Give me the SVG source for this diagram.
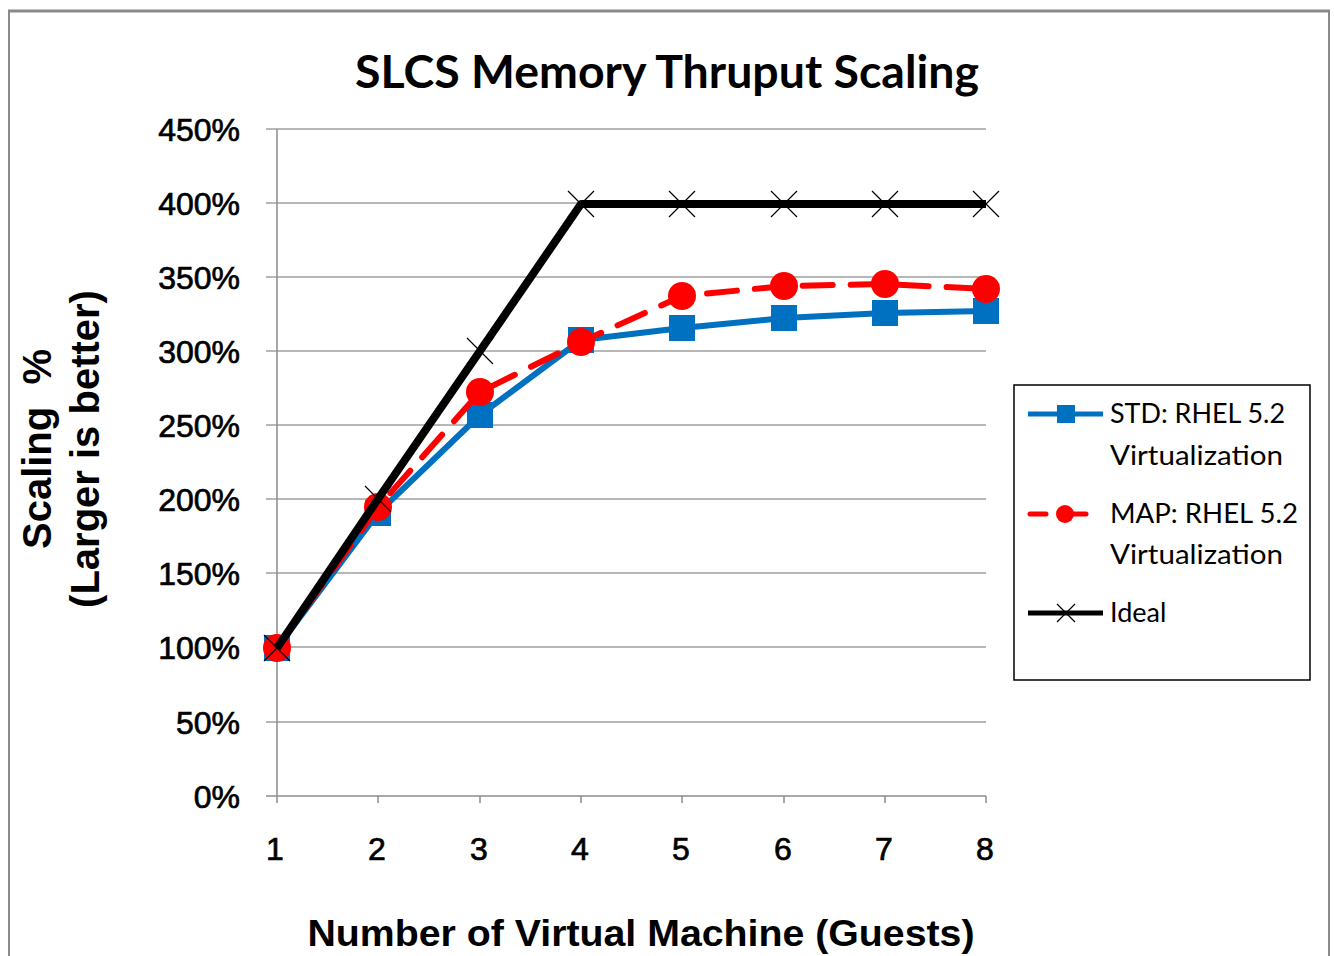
<svg xmlns="http://www.w3.org/2000/svg" width="1334" height="956" viewBox="0 0 1334 956">
  <style>
    .grid { stroke: #a0a0a0; stroke-width: 1.5; fill: none; }
    .axis { stroke: #8c8c8c; stroke-width: 1.5; fill: none; }
    .ytick { font-family: "Liberation Sans", Arial, sans-serif; font-size: 32px; fill: #000; stroke: #000; stroke-width: 0.7; text-anchor: end; }
    .xtick { font-family: "Liberation Sans", Arial, sans-serif; font-size: 32px; fill: #000; stroke: #000; stroke-width: 0.7; text-anchor: middle; }
    .atitle { font-family: "Liberation Sans", Arial, sans-serif; font-size: 36px; font-weight: bold; fill: #000; text-anchor: middle; }
    .ytitle { font-size: 40px; }
    .leg { font-family: Lato, "Open Sans", sans-serif; font-size: 27px; fill: #000; }
    .std { stroke: #0070C0; stroke-width: 6; fill: none; stroke-linejoin: round; }
    .map { stroke: #FF0000; stroke-width: 6; fill: none; stroke-dasharray: 30 18; stroke-linecap: round; stroke-linejoin: round; }
    .ideal { stroke: #000; stroke-width: 8; fill: none; stroke-linejoin: round; }
    .xm { stroke: #000; stroke-width: 1.2; fill: none; }
  </style>
  <defs>
    <rect id="sq" x="-13" y="-13" width="26" height="26" fill="#0070C0"/>
    <circle id="dot" r="14" fill="#FF0000"/>
    <path id="cross" d="M-13,-13 L13,13 M-13,13 L13,-13" class="xm"/>
  </defs>

  <rect x="0" y="0" width="1334" height="956" fill="#fff"/>
  <!-- outer frame -->
  <g id="frame">
    <line x1="8" y1="11" x2="1330" y2="11" stroke="#8a8a8a" stroke-width="3"/>
    <line x1="9" y1="10" x2="9" y2="956" stroke="#8a8a8a" stroke-width="2"/>
    <line x1="1329" y1="10" x2="1329" y2="956" stroke="#8a8a8a" stroke-width="2"/>
  </g>

  <text id="title" x="667" y="88" font-family="Lato, 'Open Sans', sans-serif" font-size="46" font-weight="bold" text-anchor="middle" textLength="624" lengthAdjust="spacingAndGlyphs">SLCS Memory Thruput Scaling</text>

  <!-- gridlines and axes -->
  <g id="gridlines">
    <path class="grid" d="M266,129H986 M266,203H986 M266,277H986 M266,351H986 M266,425H986 M266,499H986 M266,573H986 M266,647H986 M266,722H986"/>
    <path class="axis" d="M266,796H986 M277,129V803 M378,796V803 M480,796V803 M581,796V803 M682,796V803 M784,796V803 M885,796V803 M986,796V803"/>
  </g>

  <g id="y-labels">
    <text class="ytick" x="240" y="141">450%</text>
    <text class="ytick" x="240" y="215">400%</text>
    <text class="ytick" x="240" y="289">350%</text>
    <text class="ytick" x="240" y="363">300%</text>
    <text class="ytick" x="240" y="437">250%</text>
    <text class="ytick" x="240" y="511">200%</text>
    <text class="ytick" x="240" y="585">150%</text>
    <text class="ytick" x="240" y="659">100%</text>
    <text class="ytick" x="240" y="734">50%</text>
    <text class="ytick" x="240" y="808">0%</text>
  </g>
  <g id="x-labels">
    <text class="xtick" x="275" y="860">1</text>
    <text class="xtick" x="377" y="860">2</text>
    <text class="xtick" x="479" y="860">3</text>
    <text class="xtick" x="580" y="860">4</text>
    <text class="xtick" x="681" y="860">5</text>
    <text class="xtick" x="783" y="860">6</text>
    <text class="xtick" x="884" y="860">7</text>
    <text class="xtick" x="985" y="860">8</text>
  </g>

  <text id="x-title" class="atitle" x="641" y="946" textLength="667" lengthAdjust="spacingAndGlyphs">Number of Virtual Machine (Guests)</text>
  <g id="y-title" transform="translate(0,449) rotate(-90)">
    <text class="atitle ytitle" x="0" y="51" xml:space="preserve">Scaling  %</text>
    <text class="atitle ytitle" x="0" y="99">(Larger is better)</text>
  </g>

  <!-- data series -->
  <g id="series-std">
    <polyline class="std" points="277,648 378,513 480,415 581,340 682,328 784,318 885,313 986,311"/>
    <use href="#sq" x="277" y="648"/><use href="#sq" x="378" y="513"/><use href="#sq" x="480" y="415"/>
    <use href="#sq" x="581" y="340"/><use href="#sq" x="682" y="328"/><use href="#sq" x="784" y="318"/>
    <use href="#sq" x="885" y="313"/><use href="#sq" x="986" y="311"/>
  </g>
  <g id="series-map">
    <polyline class="map" points="277,648 378,507 480,392 581,342 682,296 784,286 885,284 986,289"/>
    <use href="#dot" x="277" y="648"/><use href="#dot" x="378" y="507"/><use href="#dot" x="480" y="392"/>
    <use href="#dot" x="581" y="342"/><use href="#dot" x="682" y="296"/><use href="#dot" x="784" y="286"/>
    <use href="#dot" x="885" y="284"/><use href="#dot" x="986" y="289"/>
  </g>
  <g id="series-ideal">
    <polyline class="ideal" points="277,648 378,499 480,351 581,204 682,204 784,204 885,204 986,204"/>
    <use href="#cross" x="277" y="648"/><use href="#cross" x="378" y="499"/><use href="#cross" x="480" y="351"/>
    <use href="#cross" x="581" y="204"/><use href="#cross" x="682" y="204"/><use href="#cross" x="784" y="204"/>
    <use href="#cross" x="885" y="204"/><use href="#cross" x="986" y="204"/>
  </g>

  <!-- legend -->
  <g id="legend">
    <rect x="1014" y="385" width="296" height="295" fill="#fff" stroke="#000" stroke-width="1.5"/>
    <line x1="1028" y1="414" x2="1103" y2="414" stroke="#0070C0" stroke-width="5"/>
    <rect x="1057" y="405" width="18" height="18" fill="#0070C0"/>
    <text class="leg" x="1110" y="423" textLength="175" lengthAdjust="spacingAndGlyphs">STD: RHEL 5.2</text>
    <text class="leg" x="1110" y="465" textLength="173" lengthAdjust="spacingAndGlyphs">Virtualization</text>
    <line x1="1030" y1="514" x2="1046" y2="514" stroke="#FF0000" stroke-width="5" stroke-linecap="round"/>
    <line x1="1064" y1="514" x2="1086" y2="514" stroke="#FF0000" stroke-width="5" stroke-linecap="round"/>
    <circle cx="1065" cy="514" r="9" fill="#FF0000"/>
    <text class="leg" x="1110" y="523" textLength="188" lengthAdjust="spacingAndGlyphs">MAP: RHEL 5.2</text>
    <text class="leg" x="1110" y="564" textLength="173" lengthAdjust="spacingAndGlyphs">Virtualization</text>
    <line x1="1028" y1="613" x2="1103" y2="613" stroke="#000" stroke-width="5"/>
    <path d="M1057,604 L1075,622 M1057,622 L1075,604" class="xm"/>
    <text class="leg" x="1110" y="622">Ideal</text>
  </g>
</svg>
